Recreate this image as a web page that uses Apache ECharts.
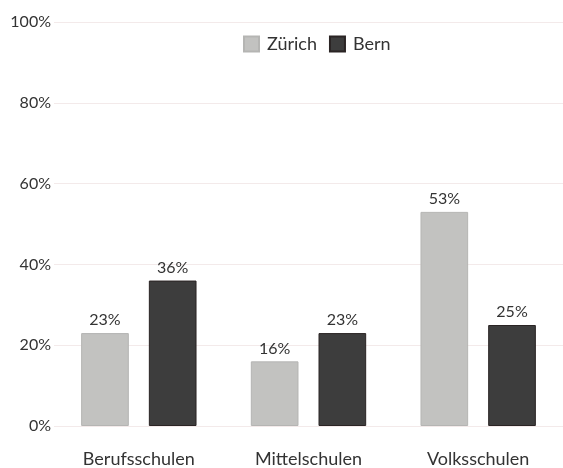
<!DOCTYPE html>
<html><head><meta charset="utf-8">
<script src="https://cdn.jsdelivr.net/npm/echarts@6/dist/echarts.min.js"></script>
<style>html,body{margin:0;padding:0;background:#fff}#c{width:563px;height:468px}</style>
</head><body><div id="c"></div>
<script>
const categories = ["Berufsschulen", "Mittelschulen", "Volksschulen"];
const zuerich = [23, 16, 53];
const bern = [36, 23, 25];
const yTicks = [0, 20, 40, 60, 80, 100];

const chart = echarts.init(document.getElementById('c'));
const font = 'Lato, "Open Sans", sans-serif';
const lbl = {show: true, position: 'top', formatter: '{c}%', color: '#333', fontFamily: font, fontSize: 16, distance: 5};
chart.setOption({
  animation: false,
  textStyle: {fontFamily: font},
  legend: {
    top: 30, left: 238, itemWidth: 15, itemHeight: 15, itemGap: 12, icon: 'rect',
    textStyle: {fontSize: 18, color: '#333', fontFamily: font, padding: [0, 0, 0, 3]},
    data: ['Zürich', 'Bern']
  },
  grid: {left: 54, right: 0, top: 22, bottom: 40},
  xAxis: {
    type: 'category', data: categories,
    axisLine: {show: false}, axisTick: {show: false},
    axisLabel: {fontSize: 18, color: '#333', margin: 24, fontFamily: font}
  },
  yAxis: {
    type: 'value', min: yTicks[0], max: yTicks[yTicks.length - 1], interval: 20,
    axisLabel: {formatter: '{value}%', fontSize: 16, color: '#333', margin: 3, fontFamily: font},
    splitLine: {lineStyle: {color: '#f3eaea', width: 1}},
    axisLine: {show: false}, axisTick: {show: false}
  },
  series: [
    {name: 'Zürich', type: 'bar', data: zuerich, barGap: '42%', barCategoryGap: '32%',
     itemStyle: {color: '#c2c2c0', borderColor: '#b5b5b3', borderWidth: 1}, label: lbl},
    {name: 'Bern', type: 'bar', data: bern,
     itemStyle: {color: '#3d3d3d', borderColor: '#2a2424', borderWidth: 1}, label: lbl}
  ]
});
</script></body></html>
